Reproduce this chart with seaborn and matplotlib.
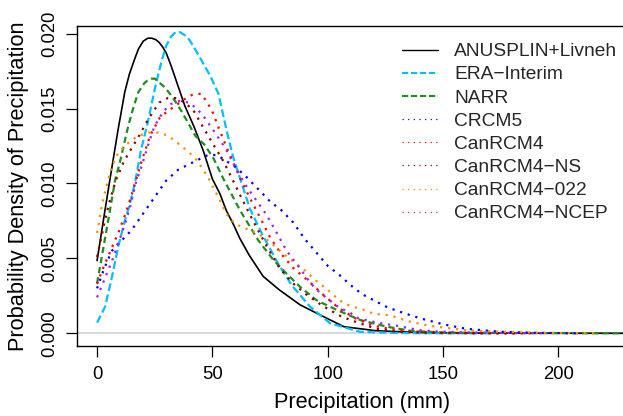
import numpy as np
import pandas as pd
import seaborn as sns
import matplotlib.pyplot as plt
from matplotlib.lines import Line2D

# values (x in mm, y = density)
anusplin_x = [0, 3, 5.5, 9, 12, 14, 16.5, 18, 20, 22, 23.7, 25.5, 27, 28.5, 30, 32, 34, 36, 38, 42, 46, 50, 53.3, 56, 59, 62, 66, 72, 79, 88, 97, 107, 121, 140, 170, 229]
anusplin_y = [.00485, .0078, .0102, .0135, .0161, .0173, .0184, .0190, .0195, .0197, .0197, .0196, .0194, .0191, .0187, .0179, .0170, .0161, .0152, .0138, .0122, .0103, .0093, .0082, .0073, .0063, .0052, .0038, .0029, .0019, .0012, .00044, .00017, .00005, .00001, 0]

era_x = [0, 3.5, 6.5, 9.2, 12, 14, 16.5, 19, 22, 25, 28, 30, 32, 34, 36, 38, 40, 42, 44.6, 49, 52.6, 56.2, 59.1, 62.7, 66.3, 71.3, 77.9, 84.4, 92.3, 101, 114, 130, 150, 170]
era_y = [.00071, .00178, .0038, .0058, .0075, .0085, .0101, .0122, .0141, .0163, .0182, .0192, .0198, .0201, .0201, .0199, .0196, .0191, .0184, .0172, .0160, .0135, .0117, .0100, .0083, .0067, .0048, .0032, .00178, .00067, .0001, .00002, 0, 0]

narr_x = [0, 2.5, 5, 7.8, 10, 13.6, 16, 17.9, 20.5, 22, 23.7, 25, 26.5, 29.5, 33, 36.7, 42.5, 46.5, 50.4, 54.8, 62, 69.9, 76.4, 82, 88, 95.2, 103.9, 114, 125.6, 135.7, 150, 170, 200, 229]
narr_y = [.00334, .0055, .0077, .0102, .0115, .0139, .0152, .0161, .0167, .0169, .0170, .0170, .0168, .0164, .0157, .0148, .0132, .0126, .0117, .0103, .0082, .0062, .0049, .0040, .0031, .0022, .00156, .00089, .00044, .00017, .00005, .00002, .00001, 0]

crcm5_x = [0, 3, 6.4, 9.2, 12, 15, 20, 25, 30, 35, 40, 44, 48, 52, 56, 60, 65, 70, 75, 80, 85, 90, 95, 100, 105, 110, 115, 120, 125, 130, 140, 150, 160, 175, 190, 209]
crcm5_y = [.0030, .0043, .0055, .0060, .0064, .0069, .0080, .0091, .0102, .0109, .0113, .0116, .0119, .0119, .0115, .0111, .0104, .0096, .0088, .0082, .0074, .0063, .0054, .0045, .0039, .0032, .0026, .0022, .0018, .0015, .0010, .0006, .0003, .0001, .00003, 0]

canrcm4_x = [0, 3, 6.4, 9.7, 12.6, 15.3, 18.9, 23, 27.2, 30.3, 34.1, 37.6, 41, 45.1, 47.8, 50, 53, 56.2, 59.9, 63.1, 67, 71.1, 75, 79.8, 85.4, 91.6, 97.8, 104.6, 111.9, 120, 130, 145, 165, 183]
canrcm4_y = [.0033, .0045, .0057, .0069, .0081, .0094, .0113, .0132, .0144, .0148, .0152, .0156, .0159, .0160, .0154, .0148, .0136, .0124, .0111, .0100, .0088, .0076, .0064, .0053, .0043, .0035, .0026, .0017, .0010, .0005, .0002, .00005, .00001, 0]

ns_x = [0, 1.7, 3.5, 5.6, 8.1, 11.4, 13.6, 17.9, 22.2, 26.9, 30.6, 34.5, 38, 41.7, 45.8, 50.4, 54.7, 58.6, 62.4, 66.3, 70.4, 74.3, 78.9, 84.4, 90.6, 98.1, 106.1, 113.3, 121.2, 130, 145, 165, 190]
ns_y = [.0051, .0063, .0076, .0089, .0102, .0114, .0120, .0131, .0143, .0154, .0157, .0157, .0154, .0149, .0138, .0126, .0115, .0103, .0091, .0079, .0067, .0056, .0044, .0034, .0026, .0018, .0011, .0007, .0003, .0001, .00003, 0, 0]

r022_x = [0, 2.3, 4.2, 6.6, 9, 12, 15, 18.2, 22.2, 26.6, 30.6, 34.1, 37.4, 40.4, 43.6, 46.1, 48.5, 50.4, 52.6, 55.9, 58.7, 62.3, 66.3, 70.3, 75, 80, 85, 90, 95, 100, 105, 110, 115, 120, 127, 135, 144, 152, 160, 175, 195, 217]
r022_y = [.0067, .0087, .0099, .0112, .0120, .0125, .0129, .0132, .0134, .0134, .0132, .0128, .0124, .0120, .0115, .0109, .0103, .0097, .0091, .0080, .0075, .0071, .0069, .0066, .0061, .0054, .0048, .0042, .0035, .0029, .0022, .0018, .0016, .0013, .0012, .0008, .0005, .00035, .0002, .0001, .00003, 0]

ncep_x = [0, 3.2, 6.4, 9.2, 12.1, 14.6, 16.9, 19.4, 22, 24.8, 28.7, 31.9, 35.7, 39.9, 43.2, 46.1, 51.1, 55.8, 59.5, 63.9, 68.9, 73.5, 77.9, 82.2, 87.6, 92.3, 95.2, 100, 105, 109.4, 113.3, 121.7, 130, 140, 150, 170, 195]
ncep_y = [.0024, .0036, .0048, .0060, .0073, .0086, .0101, .0112, .0125, .0138, .0148, .0153, .0155, .0154, .0150, .0145, .0134, .0123, .0112, .0100, .0089, .0079, .0067, .0055, .0044, .0034, .0029, .0023, .0017, .0014, .0010, .0007, .0005, .0002, .0001, .00003, 0]

names = ['ANUSPLIN+Livneh', 'ERA\u2212Interim', 'NARR', 'CRCM5', 'CanRCM4',
         'CanRCM4\u2212NS', 'CanRCM4\u2212022', 'CanRCM4\u2212NCEP']
xs = [anusplin_x, era_x, narr_x, crcm5_x, canrcm4_x, ns_x, r022_x, ncep_x]
ys = [anusplin_y, era_y, narr_y, crcm5_y, canrcm4_y, ns_y, r022_y, ncep_y]
colors = ['black', '#00BFFF', '#228B22', '#0000FF', '#FF0000', '#8B0000', '#FF8C00', '#A020F0']

solid = '-'
dashed_era = (0, (3.5, 1.6))
dashed_narr = (0, (2.8, 1.8))
dotted = (0, (1, 2.6))
styles = [solid, dashed_era, dashed_narr] + [dotted] * 5

sns.set_theme(style='ticks')
plt.rcParams['font.family'] = ['Liberation Sans', 'DejaVu Sans']

fig = plt.figure(figsize=(6.23, 4.16), dpi=100)
ax = fig.add_axes([0.1236, 0.169, 0.9165, 0.7678])

ax.axhline(0, color='#D3D3D3', lw=1.2, zorder=0)

for x, y, c, ls in zip(xs, ys, colors, styles):
    df = pd.DataFrame({'x': x, 'y': y})
    lw = 1.2 if ls == solid else 1.6
    sns.lineplot(data=df, x='x', y='y', ax=ax, color=c, lw=lw, linestyle=ls)

ax.set_xlim(-8.7, 238.8)
ax.set_ylim(-0.000828, 0.020495)
ax.set_xticks([0, 50, 100, 150, 200])
ax.set_yticks([0, 0.005, 0.010, 0.015, 0.020])
ax.set_yticklabels(['0.000', '0.005', '0.010', '0.015', '0.020'], rotation=90, va='center')
ax.tick_params(axis='both', length=8, width=0.9, labelsize=13.3, color='black', labelcolor='black')
ax.tick_params(axis='y', pad=5.5)
ax.tick_params(axis='x', pad=6.5)
for sp in ax.spines.values():
    sp.set_linewidth(1.0)
    sp.set_color('black')

ax.set_xlabel('Precipitation (mm)', fontsize=15.7, color='black')
ax.set_ylabel('Probability Density of Precipitation', fontsize=15.7, color='black')
ax.xaxis.set_label_coords(0.5, -0.179)
ax.xaxis.label.set_va('center')
ax.yaxis.set_label_coords(-0.102, 0.5)
ax.yaxis.label.set_va('center')

legend_styles = [solid, (0, (3, 1.3)), (0, (3, 1.3))] + [(0, (1, 3.5))] * 5
legend_lw = [1.0, 1.5, 1.5] + [0.9] * 5
handles = [Line2D([], [], color=c, linestyle=ls, lw=w)
           for c, ls, w in zip(colors, legend_styles, legend_lw)]
ax.legend(handles, names, loc='upper left', bbox_to_anchor=(401.7 / 623, 0.897),
          bbox_transform=fig.transFigure, frameon=False, borderpad=0,
          borderaxespad=0, handlelength=1.88, handletextpad=0.87,
          labelspacing=0.3, fontsize=13.8)

fig.savefig('out.png', dpi=100)
